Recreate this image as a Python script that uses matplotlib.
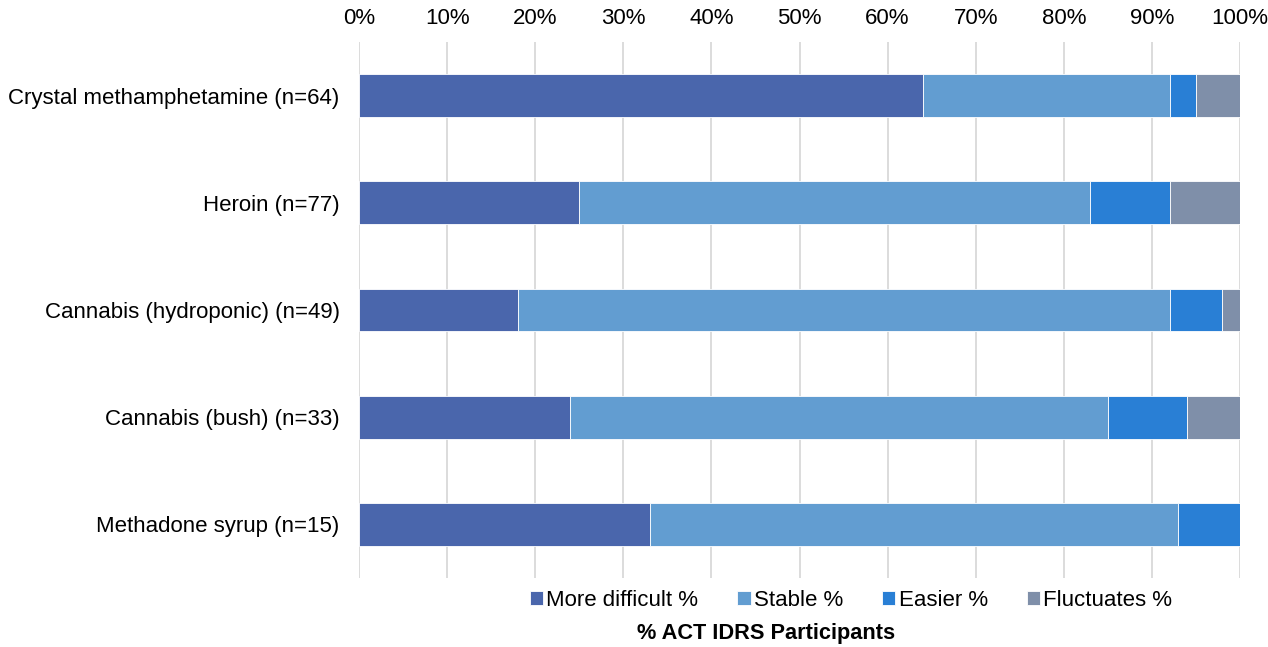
import matplotlib
matplotlib.use("Agg")
import matplotlib.pyplot as plt
import numpy as np

plt.rcParams['font.family'] = ['Liberation Sans', 'DejaVu Sans']

categories = ["Crystal methamphetamine (n=64)", "Heroin (n=77)", "Cannabis (hydroponic) (n=49)",
              "Cannabis (bush) (n=33)", "Methadone syrup (n=15)"]
series_names = ["More difficult %", "Stable %", "Easier %", "Fluctuates %"]
more_difficult = [64, 25, 18, 24, 33]
stable = [28, 58, 74, 61, 60]
easier = [3, 9, 6, 9, 7]
fluctuates = [5, 8, 2, 6, 0]
colors = ["#4A66AC", "#629DD1", "#297FD5", "#7F8FA9"]
tick_labels = ["0%", "10%", "20%", "30%", "40%", "50%", "60%", "70%", "80%", "90%", "100%"]

FS = 16

fig = plt.figure(figsize=(12.68, 6.47), dpi=100)
ax = fig.add_axes([359/1268, 1-578/647, (1240-359)/1268, (578-42)/647])

y = np.arange(len(categories))
left = np.zeros(len(categories))
for name, vals, c in zip(series_names, [more_difficult, stable, easier, fluctuates], colors):
    vals = np.array(vals, dtype=float)
    ax.barh(y, vals, left=left, height=0.4, color=c, edgecolor="white", linewidth=0.6,
            label=name, zorder=3)
    left += vals

ax.set_xlim(0, 100)
ax.set_ylim(4.5, -0.5)
ax.set_xticks(np.arange(0, 101, 10))
ax.set_xticklabels(tick_labels, fontsize=FS)
ax.xaxis.tick_top()
ax.tick_params(axis='x', length=0, pad=9)
ax.set_yticks(y)
ax.set_yticklabels(categories, fontsize=FS)
ax.tick_params(axis='y', length=0, pad=14)
ax.grid(axis='x', color="#D9D9D9", linewidth=1.3, zorder=0)
for s in ax.spines.values():
    s.set_visible(False)

fig.legend(loc="center", bbox_to_anchor=(851/1268, 1-600/647), ncol=4, frameon=False,
           fontsize=FS, handlelength=0.6, handleheight=0.6, handletextpad=0.15,
           columnspacing=1.75)
fig.text(766/1268, 1-633/647, "% ACT IDRS Participants", ha="center", va="center",
         fontsize=15.7, fontweight="bold")

fig.savefig("out.png", dpi=100)
